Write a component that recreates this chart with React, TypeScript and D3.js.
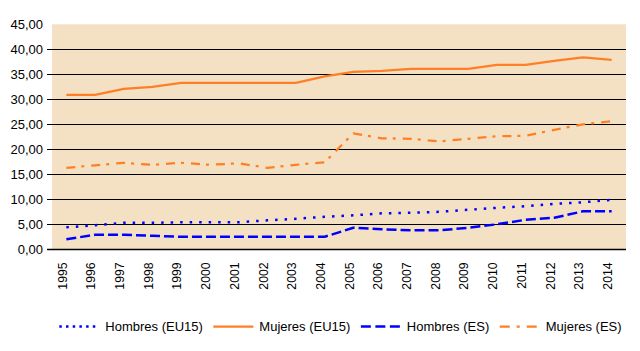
import React, { useRef, useEffect } from 'react';
import * as d3 from 'd3';

const years = ['1995', '1996', '1997', '1998', '1999', '2000', '2001', '2002', '2003', '2004',
  '2005', '2006', '2007', '2008', '2009', '2010', '2011', '2012', '2013', '2014'];

const hombresEU15 = [4.4, 4.8, 5.3, 5.3, 5.4, 5.4, 5.4, 5.8, 6.1, 6.5, 6.8, 7.2, 7.3, 7.5, 7.9, 8.3, 8.6, 9.1, 9.4, 9.9];
const mujeresEU15 = [30.9, 30.9, 32.1, 32.5, 33.3, 33.3, 33.3, 33.3, 33.3, 34.6, 35.5, 35.7, 36.1, 36.1, 36.1, 36.9, 36.9, 37.7, 38.4, 37.9];
const hombresES = [2.0, 2.9, 2.9, 2.7, 2.5, 2.5, 2.5, 2.5, 2.5, 2.5, 4.3, 4.0, 3.8, 3.8, 4.3, 5.0, 5.9, 6.3, 7.6, 7.6];
const mujeresES = [16.3, 16.8, 17.3, 16.9, 17.3, 16.9, 17.2, 16.3, 16.9, 17.4, 23.2, 22.2, 22.1, 21.6, 22.1, 22.6, 22.7, 23.9, 25.0, 25.6];

const yTicks = [0, 5, 10, 15, 20, 25, 30, 35, 40, 45];

const ORANGE = '#FF7F27';
const BLUE = '#0000FF';

const series = [
  { name: 'Hombres (EU15)', values: hombresEU15, color: BLUE, width: 2.5, dash: '2.5,7', legendDash: '2.5,4.2' },
  { name: 'Mujeres (EU15)', values: mujeresEU15, color: ORANGE, width: 2.25, dash: null, legendDash: null },
  { name: 'Hombres (ES)', values: hombresES, color: BLUE, width: 2.5, dash: '10,4', legendDash: '10,4.5' },
  { name: 'Mujeres (ES)', values: mujeresES, color: ORANGE, width: 2.25, dash: '9,6,3,7', legendDash: '10,7,3,7' },
];

const App = () => {
  const svgRef = useRef<SVGSVGElement>(null);

  useEffect(() => {
    const svg = d3.select(svgRef.current);
    svg.selectAll('*').remove();

    const width = 640;
    const height = 351;
    const margin = { top: 24.3, right: 14, bottom: 101.7, left: 52 };

    const x = d3.scaleBand()
      .domain(years)
      .range([margin.left, width - margin.right]);
    const cx = (d: string) => (x(d) as number) + x.bandwidth() / 2;

    const y = d3.scaleLinear()
      .domain([0, 45])
      .range([height - margin.bottom, margin.top]);

    const locale = d3.formatLocale({ decimal: ',', thousands: '.', grouping: [3], currency: ['', '€'] });
    const fmt = locale.format('.2f');

    svg.attr('width', width).attr('height', height)
      .style('font-family', '"Liberation Sans", Arial, sans-serif');

    // plot background
    svg.append('rect')
      .attr('x', margin.left)
      .attr('y', y(45))
      .attr('width', width - margin.right - margin.left)
      .attr('height', y(0) - y(45))
      .attr('fill', '#F4E1C4');

    // gridlines (none at the top value)
    svg.append('g')
      .selectAll('line')
      .data(yTicks.filter(t => t < 45))
      .enter().append('line')
      .attr('x1', margin.left - 5)
      .attr('x2', width - margin.right)
      .attr('y1', d => Math.round(y(d)) + 0.5)
      .attr('y2', d => Math.round(y(d)) + 0.5)
      .attr('stroke', '#000')
      .attr('stroke-width', d => (d === 0 ? 1.3 : 1.1));

    // y labels
    svg.append('g')
      .selectAll('text')
      .data(yTicks)
      .enter().append('text')
      .attr('x', margin.left - 9)
      .attr('y', d => y(d))
      .attr('dy', '0.35em')
      .attr('text-anchor', 'end')
      .attr('font-size', 13)
      .attr('fill', '#000')
      .text(d => fmt(d));

    // x labels
    svg.append('g')
      .selectAll('text')
      .data(years)
      .enter().append('text')
      .attr('transform', d => `translate(${cx(d) - 4},${y(0) + 13}) rotate(-90)`)
      .attr('dy', '0.35em')
      .attr('text-anchor', 'end')
      .attr('font-size', 12.3)
      .attr('fill', '#000')
      .text(d => d);

    // lines
    const line = d3.line<number>()
      .x((_, i) => cx(years[i]))
      .y(d => y(d));

    series.forEach(s => {
      const p = svg.append('path')
        .datum(s.values)
        .attr('d', line)
        .attr('fill', 'none')
        .attr('stroke', s.color)
        .attr('stroke-width', s.width)
        .attr('stroke-linejoin', 'round');
      if (s.dash) p.attr('stroke-dasharray', s.dash);
    });

    // legend
    const legend = svg.append('g').attr('transform', `translate(0,${height - 24.5})`);
    let lx = 59.3;
    series.forEach(s => {
      const l = legend.append('line')
        .attr('x1', lx)
        .attr('x2', lx + 40)
        .attr('y1', 0)
        .attr('y2', 0)
        .attr('stroke', s.color)
        .attr('stroke-width', s.width);
      if (s.legendDash) l.attr('stroke-dasharray', s.legendDash);
      const t = legend.append('text')
        .attr('x', lx + 46)
        .attr('y', 0)
        .attr('dy', '0.35em')
        .attr('font-size', 13)
        .attr('fill', '#000')
        .text(s.name);
      const w = (t.node() as SVGTextElement).getComputedTextLength();
      lx = lx + 46 + w + 10.5;
    });
  }, []);

  return (
    <div style={{ position: 'absolute', left: 0, top: 0, width: 640, height: 351, background: '#fff' }}>
      <svg ref={svgRef} style={{ display: 'block' }} />
    </div>
  );
};

export default App;
